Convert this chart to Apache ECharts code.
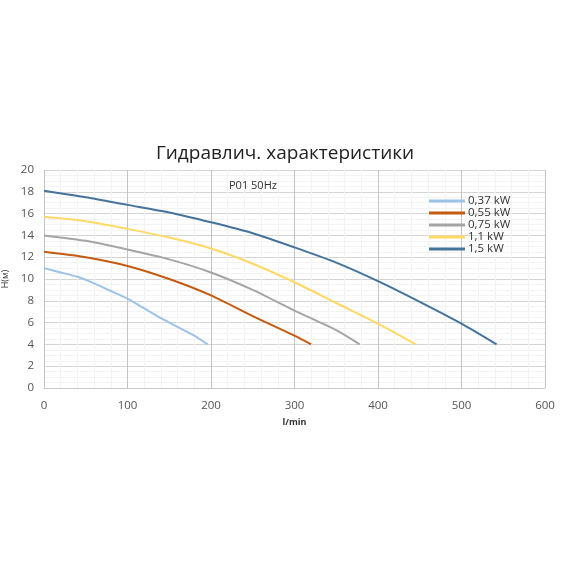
<!DOCTYPE html>
<html>
<head>
<meta charset="utf-8">
<script src="https://cdn.jsdelivr.net/npm/echarts@6/dist/echarts.min.js"></script>
<style>
  html, body { margin: 0; padding: 0; background: #fff; }
  #chart { width: 570px; height: 570px; }
</style>
</head>
<body>
<div id="chart"></div>
<script>
// flow (l/min) and head (m)
const seriesNames = ['0,37 kW', '0,55 kW', '0,75 kW', '1,1 kW', '1,5 kW']
const seriesColors = ['#9dc3e6', '#c55a11', '#a5a5a5', '#ffd966', '#44739c']

const flow037 = [0, 20, 40, 60, 80, 100, 120, 140, 160, 180, 196]
const head037 = [11.0, 10.6, 10.2, 9.6, 8.9, 8.2, 7.3, 6.4, 5.6, 4.8, 4.0]

const flow055 = [0, 50, 100, 150, 200, 250, 300, 320]
const head055 = [12.5, 12.0, 11.2, 10.0, 8.5, 6.6, 4.8, 4.0]

const flow075 = [0, 50, 100, 150, 200, 250, 300, 350, 378]
const head075 = [14.0, 13.5, 12.7, 11.8, 10.6, 9.0, 7.1, 5.3, 4.0]

const flow11 = [0, 50, 100, 150, 200, 250, 300, 350, 400, 445]
const head11 = [15.7, 15.3, 14.6, 13.8, 12.8, 11.4, 9.7, 7.8, 5.9, 4.0]

const flow15 = [0, 50, 100, 150, 200, 250, 300, 350, 400, 450, 500, 542]
const head15 = [18.1, 17.5, 16.8, 16.1, 15.2, 14.2, 12.9, 11.5, 9.8, 7.9, 5.9, 4.0]

const flows = [flow037, flow055, flow075, flow11, flow15]
const heads = [head037, head055, head075, head11, head15]

const font = '"Open Sans", "Noto Sans", sans-serif'

const chart = echarts.init(document.getElementById('chart'))

chart.setOption({
  animation: false,
  textStyle: { fontFamily: font },
  title: [
    {
      text: 'Гидравлич. характеристики',
      left: 'center',
      top: 139,
      textStyle: { fontFamily: font, fontSize: 19, fontWeight: 'normal', color: '#222' }
    },
    {
      text: 'P01 50Hz',
      left: 224,
      top: 175,
      textStyle: { fontFamily: font, fontSize: 11, fontWeight: 'normal', color: '#333' }
    }
  ],
  legend: {
    orient: 'vertical',
    left: 424,
    top: 190,
    itemWidth: 36,
    itemHeight: 3,
    itemGap: 0,
    icon: 'rect',
    textStyle: { fontFamily: font, fontSize: 11.5, color: '#333', padding: [0, 0, 0, -2] },
    data: seriesNames
  },
  grid: { left: 44, right: 25, top: 170, bottom: 182, outerBoundsMode: 'none' },
  xAxis: {
    type: 'value',
    min: 0,
    max: 600,
    interval: 100,
    name: 'l/min',
    nameLocation: 'middle',
    nameGap: 30,
    nameTextStyle: { fontFamily: font, fontSize: 9, fontWeight: 'bold', color: '#333' },
    axisLine: { show: true, lineStyle: { color: '#c8c8c8' } },
    axisTick: { show: false },
    axisLabel: { color: '#555', fontSize: 11.5, margin: 12 },
    splitLine: { lineStyle: { color: '#c4c4c4' } },
    minorTick: { show: false, splitNumber: 5 },
    minorSplitLine: { show: true, lineStyle: { color: '#f3f3f3' } }
  },
  yAxis: {
    type: 'value',
    min: 0,
    max: 20,
    interval: 2,
    name: 'H(м)',
    nameLocation: 'middle',
    nameGap: 28,
    nameTextStyle: { fontFamily: font, fontSize: 9, color: '#333' },
    axisLine: { show: false },
    axisTick: { show: false },
    axisLabel: { color: '#555', fontSize: 11.5, margin: 10 },
    splitLine: { lineStyle: { color: '#d4d4d4' } },
    minorTick: { show: false, splitNumber: 4 },
    minorSplitLine: { show: true, lineStyle: { color: '#f3f3f3' } }
  },
  series: seriesNames.map((name, i) => ({
    name,
    type: 'line',
    smooth: 0.25,
    showSymbol: false,
    data: flows[i].map((q, j) => [q, heads[i][j]]),
    lineStyle: { width: 2, color: seriesColors[i] },
    itemStyle: { color: seriesColors[i] }
  }))
})
</script>
</body>
</html>
